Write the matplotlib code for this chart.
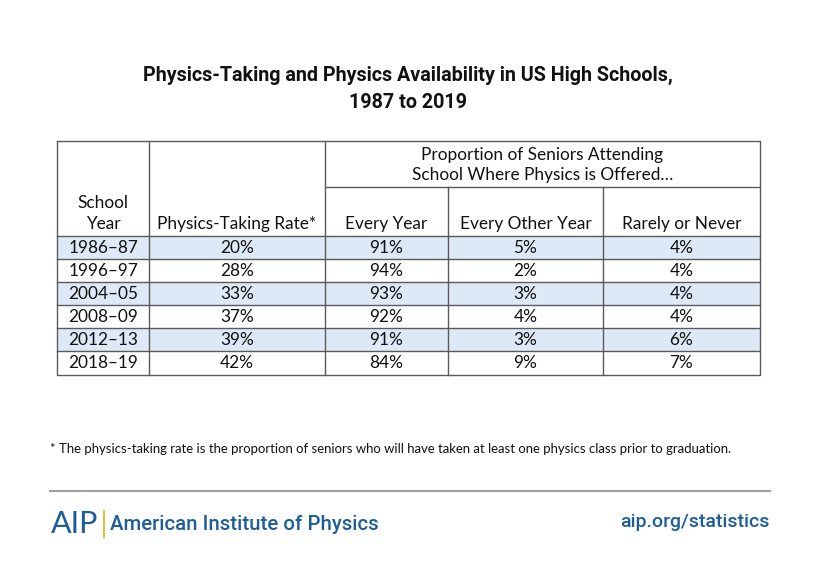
import matplotlib
matplotlib.use("Agg")
import matplotlib.pyplot as plt
from matplotlib.patches import Rectangle

# ---- data ----
school_years = ["1986–87", "1996–97", "2004–05", "2008–09", "2012–13", "2018–19"]
physics_taking_rate = ["20%", "28%", "33%", "37%", "39%", "42%"]
every_year = ["91%", "94%", "93%", "92%", "91%", "84%"]
every_other_year = ["5%", "2%", "3%", "4%", "3%", "9%"]
rarely_or_never = ["4%", "4%", "4%", "4%", "6%", "7%"]
col_headers = ["School\nYear", "Physics-Taking Rate*", "Every Year", "Every Other Year", "Rarely or Never"]
group_header = "Proportion of Seniors Attending\nSchool Where Physics is Offered…"
title = "Physics-Taking and Physics Availability in US High Schools,\n1987 to 2019"
footnote = "* The physics-taking rate is the proportion of seniors who will have taken at least one physics class prior to graduation."

W, H = 820, 572
fig = plt.figure(figsize=(W / 100, H / 100), dpi=100)
ax = fig.add_axes([0, 0, 1, 1])
ax.set_xlim(0, W)
ax.set_ylim(H, 0)
ax.axis("off")

TFONT = ["Lato", "DejaVu Sans"]
HFONT = ["Roboto", "DejaVu Sans"]
border = "#5a5a5a"
shade = "#dde9f6"
blue = "#1d5d99"

# title
ax.text(408, 89, title, ha="center", va="center", fontsize=14.2, family=HFONT,
        weight="bold", color="#111111", linespacing=1.5)

# table geometry
xs = [57, 149, 325, 448, 603, 760]
y_top, y_mid, y_hdr = 141, 187, 236
row_h = 23
n = len(school_years)
row_ys = [y_hdr + i * row_h for i in range(n + 1)]
y_bot = row_ys[-1] + 1

# shading
for i in range(n):
    if i % 2 == 0:
        ax.add_patch(Rectangle((xs[0], row_ys[i]), xs[-1] - xs[0], row_h,
                               facecolor=shade, edgecolor="none", zorder=1))

lw = 1.0
# outer box
ax.plot([xs[0], xs[-1], xs[-1], xs[0], xs[0]], [y_top, y_top, y_bot, y_bot, y_top],
        color=border, lw=lw, zorder=3)
# vertical lines
for x in xs[1:3]:
    ax.plot([x, x], [y_top, y_bot], color=border, lw=lw, zorder=3)
for x in xs[3:5]:
    ax.plot([x, x], [y_mid, y_bot], color=border, lw=lw, zorder=3)
# horizontals
ax.plot([xs[2], xs[-1]], [y_mid, y_mid], color=border, lw=lw, zorder=3)
for y in row_ys[:-1]:
    ax.plot([xs[0], xs[-1]], [y, y], color=border, lw=lw, zorder=3)

fs = 12.4
# group header
ax.text((xs[2] + xs[-1]) / 2, (y_top + y_mid) / 2 + 1, group_header, ha="center", va="center",
        fontsize=fs, family=TFONT, color="#111111", linespacing=1.3, zorder=4)
# column headers
for j, h in enumerate(col_headers):
    ax.text((xs[j] + xs[j + 1]) / 2, y_hdr - 4, h, ha="center", va="bottom",
            fontsize=fs, family=TFONT, color="#111111", linespacing=1.35, zorder=4)
# data
cols = [school_years, physics_taking_rate, every_year, every_other_year, rarely_or_never]
for j, col in enumerate(cols):
    for i, v in enumerate(col):
        ax.text((xs[j] + xs[j + 1]) / 2, row_ys[i] + row_h / 2 + 0.5, v, ha="center", va="center",
                fontsize=fs, family=TFONT, color="#111111", zorder=4)

# footnote
ax.text(50, 449, footnote, ha="left", va="center", fontsize=9.45, family=TFONT, color="#111111")

# separator line
ax.plot([50, 770], [491, 491], color="#a0a0a0", lw=1.5)

# footer
ax.text(51, 524, "AIP", ha="left", va="center", fontsize=22, family=["Lato", "DejaVu Sans"],
        weight="normal", color=blue)
ax.plot([104, 104], [511, 537], color="#f2b01e", lw=1.3)
ax.text(110, 524, "American Institute of Physics", ha="left", va="center", fontsize=14.7,
        family=HFONT, weight="medium", color=blue)
ax.text(770, 522, "aip.org/statistics", ha="right", va="center", fontsize=14,
        family=HFONT, weight="medium", color=blue)

fig.savefig("out.png", dpi=100, facecolor="white")
